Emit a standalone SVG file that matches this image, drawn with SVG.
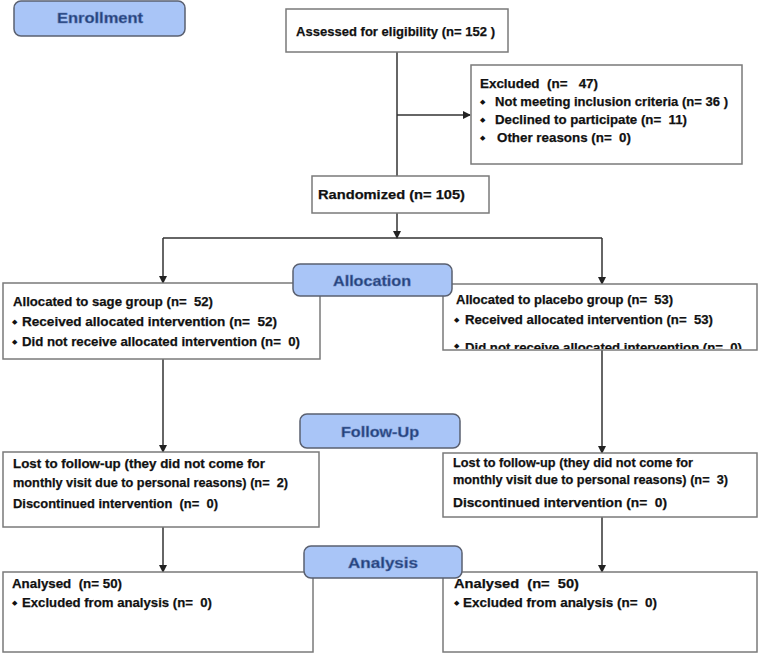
<svg xmlns="http://www.w3.org/2000/svg" width="759" height="653" viewBox="0 0 759 653">
<style>
.box{fill:#fff;stroke:#7a7a7a;stroke-width:1.5}
.lbl{fill:#a9c5f7;stroke:#5a6070;stroke-width:1.5}
.lt{font-family:"Liberation Sans",Arial,sans-serif;font-weight:bold;font-size:15px;fill:#23407a;stroke:#5a77b0;stroke-width:0.5;text-anchor:middle}
.t{font-family:"Liberation Sans",Arial,sans-serif;font-weight:bold;font-size:13.5px;fill:#111;stroke:#111;stroke-width:0.25}
.b{font-family:"DejaVu Sans",sans-serif;font-size:7px;fill:#111}
.ln{stroke:#333;stroke-width:1.5;fill:none}
</style>
<defs>
<marker id="ah" markerWidth="8" markerHeight="8" refX="7" refY="4" orient="auto" markerUnits="userSpaceOnUse">
<path d="M0,0 L8,4 L0,8 z" fill="#222"/>
</marker>
<clipPath id="clipR"><rect x="443" y="284" width="314" height="65"/></clipPath>
</defs>
<g id="connectors">
<path class="ln" d="M397,52 V176"/>
<path class="ln" d="M397,115 H470" marker-end="url(#ah)"/>
<path class="ln" d="M397,213 V238" marker-end="url(#ah)"/>
<path class="ln" d="M163,238 H602"/>
<path class="ln" d="M163,238 V283" marker-end="url(#ah)"/>
<path class="ln" d="M602,238 V284" marker-end="url(#ah)"/>
<path class="ln" d="M163,359 V452" marker-end="url(#ah)"/>
<path class="ln" d="M602,350 V453" marker-end="url(#ah)"/>
<path class="ln" d="M163,527 V572" marker-end="url(#ah)"/>
<path class="ln" d="M602,517 V572" marker-end="url(#ah)"/>
</g>
<g id="enrollment">
<rect class="lbl" x="14" y="1" width="171" height="35" rx="7"/>
<text class="lt" x="100" y="23" textLength="86" lengthAdjust="spacingAndGlyphs">Enrollment</text>
</g>
<g id="assessed">
<rect class="box" x="286" y="9" width="222" height="43"/>
<text class="t" x="296" y="36" textLength="199" lengthAdjust="spacingAndGlyphs">Assessed for eligibility (n= 152 )</text>
</g>
<g id="excluded">
<rect class="box" x="471" y="65" width="271" height="99"/>
<text class="t" x="480" y="88" textLength="118" lengthAdjust="spacingAndGlyphs" xml:space="preserve">Excluded  (n=   47)</text>
<text class="b" x="480" y="104">◆</text>
<text class="t" x="495" y="106" textLength="233" lengthAdjust="spacingAndGlyphs">Not meeting inclusion criteria (n= 36 )</text>
<text class="b" x="480" y="122">◆</text>
<text class="t" x="495" y="124" textLength="192" lengthAdjust="spacingAndGlyphs" xml:space="preserve">Declined to participate (n=  11)</text>
<text class="b" x="480" y="140">◆</text>
<text class="t" x="497" y="142" textLength="134" lengthAdjust="spacingAndGlyphs" xml:space="preserve">Other reasons (n=  0)</text>
</g>
<g id="randomized">
<rect class="box" x="312" y="176" width="177" height="37"/>
<text class="t" x="318" y="199" textLength="147" lengthAdjust="spacingAndGlyphs">Randomized (n= 105)</text>
</g>
<g id="alloc-left">
<rect class="box" x="3" y="283" width="317" height="76"/>
<text class="t" x="13" y="306" textLength="200" lengthAdjust="spacingAndGlyphs" xml:space="preserve">Allocated to sage group (n=  52)</text>
<text class="b" x="12" y="324">◆</text>
<text class="t" x="22" y="326" textLength="255" lengthAdjust="spacingAndGlyphs" xml:space="preserve">Received allocated intervention (n=  52)</text>
<text class="b" x="12" y="344">◆</text>
<text class="t" x="22" y="346" textLength="278" lengthAdjust="spacingAndGlyphs" xml:space="preserve">Did not receive allocated intervention (n=  0)</text>
</g>
<g id="alloc-right">
<rect class="box" x="443" y="284" width="314" height="66"/>
<text class="t" x="456" y="304" textLength="217" lengthAdjust="spacingAndGlyphs" xml:space="preserve">Allocated to placebo group (n=  53)</text>
<text class="b" x="454" y="322">◆</text>
<text class="t" x="465" y="324" textLength="248" lengthAdjust="spacingAndGlyphs" xml:space="preserve">Received allocated intervention (n=  53)</text>
<g clip-path="url(#clipR)">
<text class="b" x="454" y="348">◆</text>
<text class="t" x="465" y="352" textLength="277" lengthAdjust="spacingAndGlyphs" xml:space="preserve">Did not receive allocated intervention (n=  0)</text>
</g>
</g>
<g id="allocation">
<rect class="lbl" x="293" y="264" width="159" height="32" rx="7"/>
<text class="lt" x="372" y="286" textLength="78" lengthAdjust="spacingAndGlyphs">Allocation</text>
</g>
<g id="follow-left">
<rect class="box" x="3" y="452" width="316" height="75"/>
<text class="t" x="13" y="468" textLength="252" lengthAdjust="spacingAndGlyphs">Lost to follow-up (they did not come for</text>
<text class="t" x="13" y="487" textLength="275" lengthAdjust="spacingAndGlyphs" xml:space="preserve">monthly visit due to personal reasons) (n=  2)</text>
<text class="t" x="13" y="508" textLength="205" lengthAdjust="spacingAndGlyphs" xml:space="preserve">Discontinued intervention  (n=  0)</text>
</g>
<g id="follow-right">
<rect class="box" x="443" y="453" width="314" height="64"/>
<text class="t" x="453" y="467" textLength="240" lengthAdjust="spacingAndGlyphs">Lost to follow-up (they did not come for</text>
<text class="t" x="453" y="484" textLength="275" lengthAdjust="spacingAndGlyphs" xml:space="preserve">monthly visit due to personal reasons) (n=  3)</text>
<text class="t" x="453" y="507" textLength="214" lengthAdjust="spacingAndGlyphs" xml:space="preserve">Discontinued intervention (n=  0)</text>
</g>
<g id="followup">
<rect class="lbl" x="300" y="414" width="160" height="34" rx="7"/>
<text class="lt" x="380" y="437" textLength="78" lengthAdjust="spacingAndGlyphs">Follow-Up</text>
</g>
<g id="analysed-left">
<rect class="box" x="3" y="572" width="310" height="80"/>
<text class="t" x="12" y="588" textLength="110" lengthAdjust="spacingAndGlyphs" xml:space="preserve">Analysed  (n= 50)</text>
<text class="b" x="12" y="605">◆</text>
<text class="t" x="22" y="607" textLength="190" lengthAdjust="spacingAndGlyphs" xml:space="preserve">Excluded from analysis (n=  0)</text>
</g>
<g id="analysed-right">
<rect class="box" x="443" y="572" width="314" height="80"/>
<text class="t" x="454" y="588" textLength="125" lengthAdjust="spacingAndGlyphs" xml:space="preserve">Analysed  (n=  50)</text>
<text class="b" x="454" y="605">◆</text>
<text class="t" x="463" y="607" textLength="194" lengthAdjust="spacingAndGlyphs" xml:space="preserve">Excluded from analysis (n=  0)</text>
</g>
<g id="analysis">
<rect class="lbl" x="304" y="546" width="158" height="32" rx="7"/>
<text class="lt" x="383" y="568" textLength="70" lengthAdjust="spacingAndGlyphs">Analysis</text>
</g>
</svg>
